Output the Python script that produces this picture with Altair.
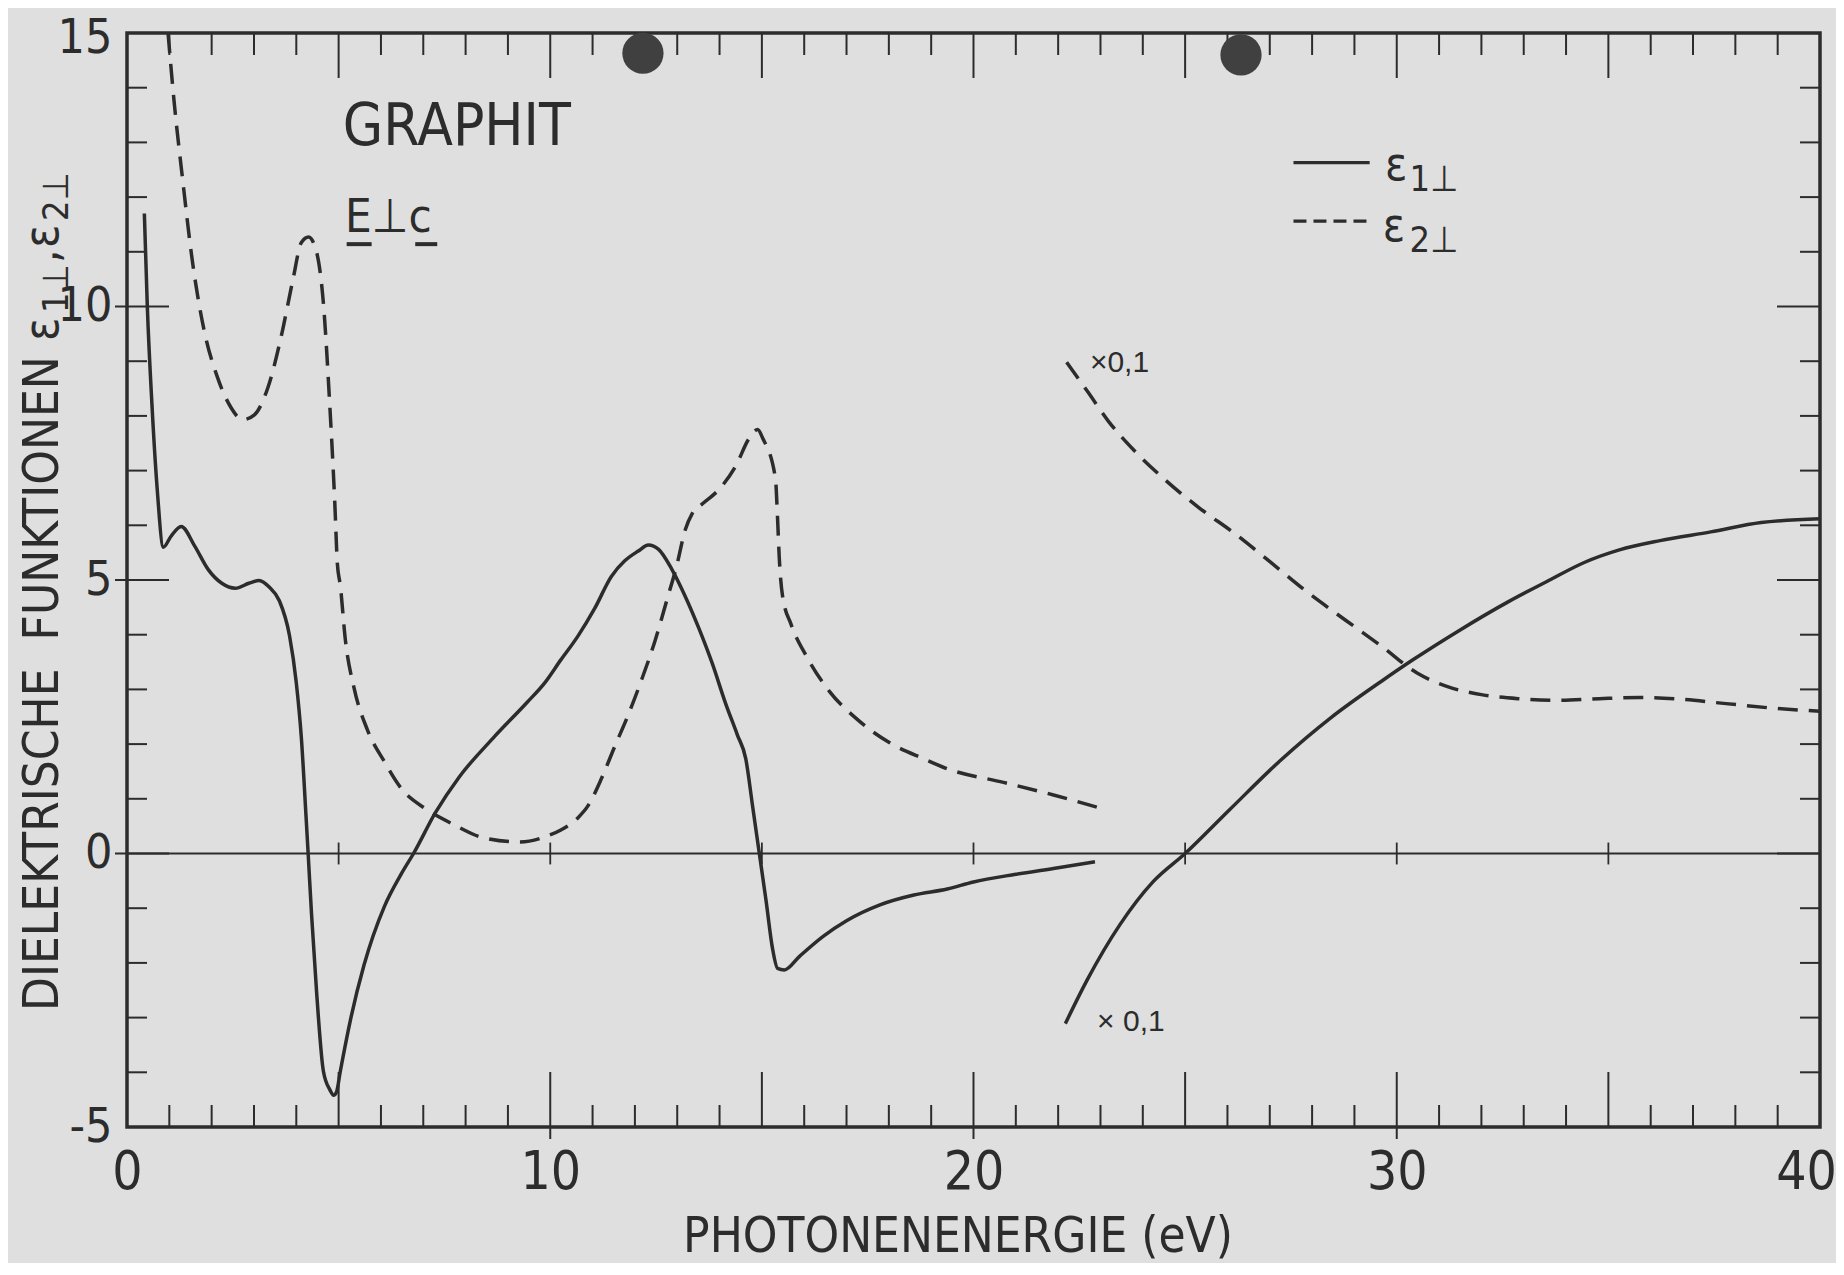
import altair as alt
import pandas as pd

# ---------------- data ----------------
# eps_1 (solid), first branch, 0.4 ... 22.9 eV
solid1_x = [0.41, 0.48, 0.59, 0.71, 0.86, 1.04, 1.28, 1.6, 1.92, 2.24, 2.56, 2.88, 3.12, 3.36, 3.6,
            3.84, 4.0, 4.12, 4.23, 4.28, 4.36, 4.48, 4.64, 4.8, 4.88, 4.95, 5.04, 5.28, 5.6, 6.08,
            6.49, 6.77, 7.29, 7.85, 8.65, 9.45, 9.86, 10.25, 10.65, 11.05, 11.44, 11.76, 12.08,
            12.32, 12.56, 12.87, 13.19, 13.51, 13.83, 14.14, 14.42, 14.62, 14.78, 14.94, 15.1,
            15.25, 15.37, 15.53, 15.89, 16.44, 17.0, 17.79, 18.59, 19.38, 20.0, 21.0, 22.0, 22.87]
solid1_y = [11.7, 10.0, 8.2, 6.7, 5.6, 5.8, 5.98, 5.62, 5.19, 4.94, 4.85, 4.94, 4.99, 4.87, 4.62,
            3.98, 3.12, 2.11, 0.68, 0.0, -1.11, -2.54, -3.98, -4.33, -4.42, -4.36, -3.98, -3.04,
            -2.04, -0.97, -0.36, 0.0, 0.75, 1.4, 2.11, 2.76, 3.11, 3.54, 3.97, 4.48, 5.06, 5.35,
            5.53, 5.64, 5.56, 5.2, 4.7, 4.12, 3.47, 2.75, 2.17, 1.73, 0.87, 0.0, -0.87, -1.73,
            -2.1, -2.13, -1.88, -1.52, -1.23, -0.94, -0.76, -0.65, -0.52, -0.38, -0.26, -0.15]

# eps_2 (dashed), first branch
dashed1_x = [0.97, 1.11, 1.31, 1.55, 1.82, 2.14, 2.46, 2.73, 3.01, 3.33, 3.64, 3.92, 4.12, 4.29,
             4.48, 4.64, 4.79, 4.91, 4.97, 5.04, 5.16, 5.36, 5.68, 6.08, 6.49, 7.05, 7.69, 8.41,
             9.29, 9.93, 10.25, 10.65, 10.89, 11.21, 11.52, 11.84, 12.16, 12.48, 12.75, 12.99,
             13.19, 13.35, 13.59, 13.98, 14.38, 14.7, 14.9, 15.02, 15.32, 15.37, 15.41, 15.49,
             15.69, 16.05, 16.6, 17.24, 18.03, 18.83, 19.38, 20.71, 21.89, 22.99]
dashed1_y = [15.0, 13.77, 12.35, 10.8, 9.57, 8.7, 8.15, 7.93, 8.02, 8.52, 9.44, 10.49, 11.17, 11.27,
             10.99, 10.06, 8.21, 6.4, 5.3, 4.9, 3.9, 3.04, 2.26, 1.68, 1.18, 0.82, 0.54, 0.29,
             0.21, 0.32, 0.43, 0.65, 0.87, 1.37, 1.95, 2.53, 3.18, 3.9, 4.62, 5.27, 5.92, 6.21,
             6.39, 6.65, 7.08, 7.59, 7.75, 7.59, 6.86, 6.14, 5.42, 4.7, 4.19, 3.61, 2.96, 2.46,
             2.02, 1.73, 1.55, 1.3, 1.07, 0.83]

# second branches (plotted x 0,1)
dashed2_x = [22.2, 22.7, 23.18, 23.78, 24.5, 25.33, 26.17, 27.01, 27.85, 28.8, 29.64, 30.48, 31.2,
             32.03, 32.87, 33.83, 34.78, 35.74, 36.7, 37.78, 38.85, 40.0]
dashed2_y = [8.98, 8.44, 7.91, 7.38, 6.85, 6.32, 5.85, 5.33, 4.8, 4.26, 3.79, 3.3, 3.05, 2.9,
             2.83, 2.8, 2.83, 2.85, 2.82, 2.74, 2.66, 2.6]
solid2_x = [22.17, 22.68, 23.46, 24.25, 25.0, 26.05, 27.25, 28.44, 29.64, 30.4, 31.44, 32.63, 33.59,
            34.43, 35.26, 36.22, 37.42, 38.61, 40.0]
solid2_y = [-3.11, -2.32, -1.3, -0.51, 0.0, 0.8, 1.7, 2.48, 3.15, 3.55, 4.06, 4.6, 4.99, 5.32,
            5.55, 5.72, 5.88, 6.05, 6.12]

x_labels = [0, 10, 20, 30, 40]
y_labels = [-5, 0, 5, 10, 15]
x_minor = [v for v in range(1, 40) if v % 5 != 0]
x_five = [5, 15, 25, 35]
x_ten = [10, 20, 30]
y_minor = [v for v in range(-4, 15) if v % 5 != 0]
y_major = [0, 5, 10]
zero_ticks = [5, 10, 15, 20, 25, 30, 35]

holes_x = [12.19, 26.32]
holes_y = [14.63, 14.6]

# ---------------- styling ----------------
W, H = 1693, 1094
INK = "#2c2c2c"
BG = "#dfdfdf"
LETTER = "DejaVu Sans Condensed, DejaVu Sans, sans-serif"
TYPED = "Liberation Sans, Arial, sans-serif"

xs = alt.Scale(domain=[0, 40], nice=False, zero=False)
ys = alt.Scale(domain=[-5, 15], nice=False, zero=False)
xaxis = alt.Axis(values=x_labels, ticks=False, domain=False, grid=False, labelFont=LETTER,
                 labelFontSize=53, labelColor=INK, labelPadding=19, labelFlush=False,
                 labelOffset={"condition": {"test": "datum.value == 40", "value": -14}, "value": 0},
                 title=None)
yaxis = alt.Axis(values=y_labels, ticks=False, domain=False, grid=False, labelFont=LETTER,
                 labelFontSize=48, labelColor=INK, labelPadding=15, labelFlush=False,
                 labelOffset={"condition": {"test": "datum.value == 15", "value": 5}, "value": 0},
                 labelExpr="replace(datum.label, '\u2212', '-')", title=None)
X = alt.X("x:Q", scale=xs, axis=xaxis)
Y = alt.Y("y:Q", scale=ys, axis=yaxis)


def seg(xv, yv, name):
    return pd.DataFrame({"x": xv, "y": yv, "seg": name})


solid_df = pd.concat([seg(solid1_x, solid1_y, "s1"), seg(solid2_x, solid2_y, "s2")])
dashed_df = pd.concat([seg(dashed1_x, dashed1_y, "d1"), seg(dashed2_x, dashed2_y, "d2")])

solid = alt.Chart(solid_df).mark_line(color=INK, strokeWidth=3.5, interpolate="monotone").encode(
    x=X, y=Y, detail="seg:N")
dashed = alt.Chart(dashed_df).mark_line(color=INK, strokeWidth=3.5, interpolate="monotone",
                                        strokeDash=[20, 11]).encode(x=X, y=Y, detail="seg:N")

zero_line = alt.Chart(pd.DataFrame({"y": [0]})).mark_rule(color=INK, strokeWidth=1.8).encode(
    y=Y, x=alt.value(0), x2=alt.value(W))
zt = alt.Chart(pd.DataFrame({"x": zero_ticks, "y": [0.2] * 7, "y2": [-0.2] * 7})).mark_rule(
    color=INK, strokeWidth=1.8).encode(x=X, y=Y, y2="y2:Q")


def vticks(vals, top_from, top_to, bot_from, bot_to, sw=2.0):
    d = pd.DataFrame({"x": vals})
    t = alt.Chart(d).mark_rule(color=INK, strokeWidth=sw).encode(
        x=X, y=alt.value(top_from), y2=alt.value(top_to))
    b = alt.Chart(d).mark_rule(color=INK, strokeWidth=sw).encode(
        x=X, y=alt.value(bot_from), y2=alt.value(bot_to))
    return [t, b]


def hticks(vals, l_from, l_to, r_from, r_to, sw=2.0):
    d = pd.DataFrame({"y": vals})
    l = alt.Chart(d).mark_rule(color=INK, strokeWidth=sw).encode(
        y=Y, x=alt.value(l_from), x2=alt.value(l_to))
    r = alt.Chart(d).mark_rule(color=INK, strokeWidth=sw).encode(
        y=Y, x=alt.value(r_from), x2=alt.value(r_to))
    return [l, r]


ticks = []
ticks += vticks(x_minor, 0, 22, H, H - 22)
ticks += vticks(x_five, 0, 45, H, H - 55)
ticks += vticks(x_ten, 0, 45, H + 12, H - 55)
ticks += hticks(y_minor, 0, 20, W, W - 20)
ticks += hticks(y_major, -12, 42, W, W - 43)


def text_layer(xv, yv, txt, size, font=LETTER, **kw):
    d = pd.DataFrame({"x": [xv], "y": [yv], "t": [txt]})
    return alt.Chart(d).mark_text(font=font, fontSize=size, color=INK, align="left",
                                  baseline="alphabetic", **kw).encode(x=X, y=Y, text="t:N")


texts = [
    text_layer(5.1, 12.96, "GRAPHIT", 58),
    text_layer(5.15, 11.36, "E\u22a5c", 47),
    text_layer(22.75, 8.8, "\u00d70,1", 30, font=TYPED),
    text_layer(22.92, -3.24, "\u00d7 0,1", 30, font=TYPED),
    text_layer(29.72, 12.31, "\u03b5", 46),
    text_layer(30.3, 12.12, "1\u22a5", 36),
    text_layer(29.67, 11.19, "\u03b5", 46),
    text_layer(30.3, 11.0, "2\u22a5", 36),
]

underline = alt.Chart(pd.DataFrame({"x": [5.19, 6.81], "x2": [5.78, 7.33], "y": [11.14, 11.14]})
                      ).mark_rule(color=INK, strokeWidth=4).encode(x=X, x2="x2:Q", y=Y)

legend_lines = [
    alt.Chart(pd.DataFrame({"x": [27.56], "x2": [29.36], "y": [12.63]})).mark_rule(
        color=INK, strokeWidth=3.2).encode(x=X, x2="x2:Q", y=Y),
    alt.Chart(pd.DataFrame({"x": [27.56], "x2": [29.36], "y": [11.56]})).mark_rule(
        color=INK, strokeWidth=3.2, strokeDash=[13, 7]).encode(x=X, x2="x2:Q", y=Y),
]

holes = alt.Chart(pd.DataFrame({"x": holes_x, "y": holes_y})).mark_point(
    filled=True, shape="circle", size=1700, color="#404040", opacity=1).encode(x=X, y=Y)


def pix_text(txt, xpx, ypx, size, angle=0, align="left"):
    d = pd.DataFrame({"t": [txt]})
    return alt.Chart(d).mark_text(font=LETTER, fontSize=size, color=INK, align=align,
                                  baseline="alphabetic", angle=angle).encode(
        x=alt.value(xpx), y=alt.value(ypx), text="t:N")


titles = [
    pix_text("PHOTONENENERGIE (eV)", 831, 1219, 49, align="center"),
    pix_text("DIELEKTRISCHE\u00a0\u00a0FUNKTIONEN", -69, 978, 49, angle=270),
    pix_text("\u03b5", -69, 308, 48, angle=270),
    pix_text("1\u22a5", -59, 280, 36, angle=270),
    pix_text(",", -69, 230, 48, angle=270),
    pix_text("\u03b5", -69, 215, 48, angle=270),
    pix_text("2\u22a5", -59, 188, 36, angle=270),
]

layers = [zero_line, zt] + ticks + [dashed, solid] + texts + [underline] + legend_lines + [holes] + titles

chart = alt.layer(*layers).properties(
    width=W, height=H,
    background=BG,
    padding={"left": 119, "top": 25, "right": 16, "bottom": 136},
    autosize=alt.AutoSizeParams(type="none"),
).configure_view(stroke=INK, strokeWidth=3.5)

chart.save("out.html", embed_options={"renderer": "svg", "actions": False})
